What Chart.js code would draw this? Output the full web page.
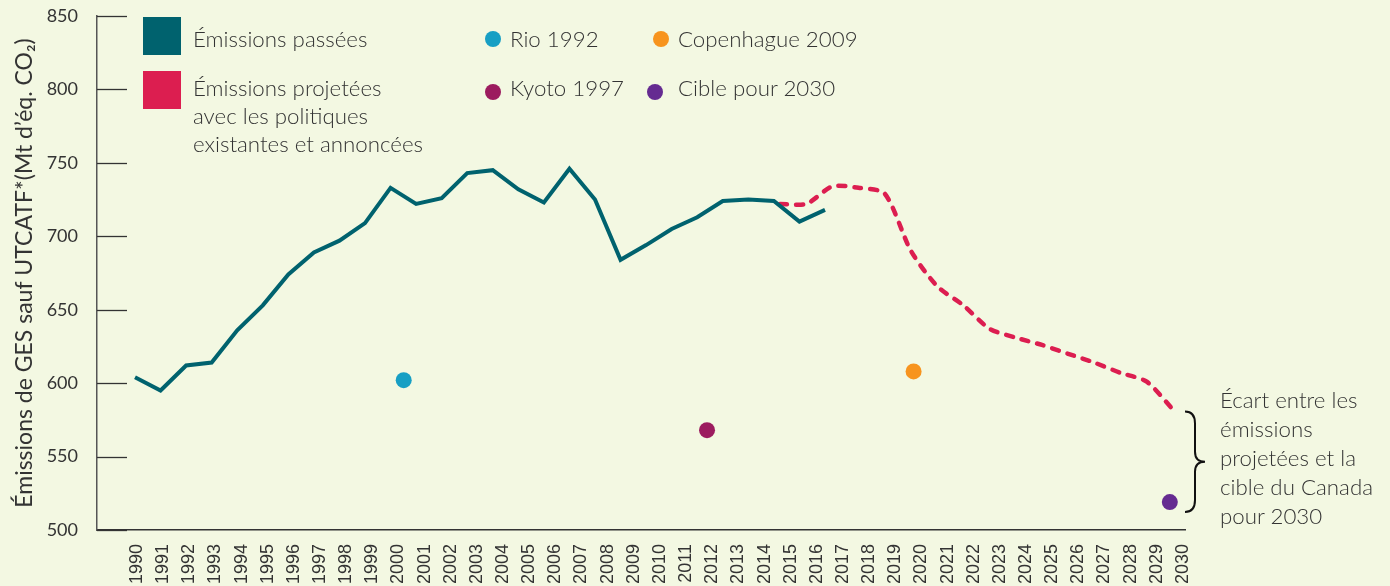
<!DOCTYPE html>
<html lang="fr">
<head>
<meta charset="utf-8">
<title>Émissions de GES du Canada</title>
<script src="https://cdn.jsdelivr.net/npm/chart.js@4/dist/chart.umd.min.js"></script>
<style>
    html, body { margin: 0; padding: 0; background: #f3f8e2; }
    #wrap { position: relative; width: 1390px; height: 586px; overflow: hidden; background: #f3f8e2; }
    #chart { position: absolute; left: 0; top: 0; }
    .txt { position: absolute; font-family: Lato, "Open Sans", sans-serif; font-weight: 300; font-size: 22.3px; color: #333; line-height: 28px; white-space: nowrap; }
    .sq { position: absolute; width: 38px; height: 38px; }
    .dot { position: absolute; width: 16px; height: 16px; border-radius: 50%; }
    .note { line-height: 29px; }
</style>
</head>
<body>
<div id="wrap">
    <canvas id="chart" width="1390" height="586"></canvas>

    <!-- légende -->
    <div class="sq" style="left:143px; top:17px; background:#00626e;"></div>
    <div class="txt" style="left:193px; top:25px;">Émissions passées</div>
    <div class="sq" style="left:143px; top:71px; background:#dc1e50;"></div>
    <div class="txt" style="left:193px; top:74px;">Émissions projetées<br>avec les politiques<br>existantes et annoncées</div>

    <div class="dot" style="left:485px; top:31px; background:#179fc4;"></div>
    <div class="txt" style="left:510px; top:25px;">Rio 1992</div>
    <div class="dot" style="left:653px; top:31px; background:#f7941e;"></div>
    <div class="txt" style="left:678px; top:25px;">Copenhague 2009</div>
    <div class="dot" style="left:485px; top:84px; background:#9c1c5f;"></div>
    <div class="txt" style="left:510px; top:74px;">Kyoto 1997</div>
    <div class="dot" style="left:647px; top:84px; background:#652b91;"></div>
    <div class="txt" style="left:678px; top:74px;">Cible pour 2030</div>

    <!-- annotation -->
    <div class="txt note" style="left:1220px; top:385px;">Écart entre les<br>émissions<br>projetées et la<br>cible du Canada<br>pour 2030</div>
</div>

<script>
// ---- données ----
const years = [1990, 1991, 1992, 1993, 1994, 1995, 1996, 1997, 1998, 1999,
               2000, 2001, 2002, 2003, 2004, 2005, 2006, 2007, 2008, 2009,
               2010, 2011, 2012, 2013, 2014, 2015, 2016, 2017, 2018, 2019,
               2020, 2021, 2022, 2023, 2024, 2025, 2026, 2027, 2028, 2029, 2030];
const yTicks = [500, 550, 600, 650, 700, 750, 800, 850];

// émissions passées (Mt)
const pastYears = [1990, 1991, 1992, 1993, 1994, 1995, 1996, 1997, 1998, 1999,
                   2000, 2001, 2002, 2003, 2004, 2005, 2006, 2007, 2008, 2009,
                   2010, 2011, 2012, 2013, 2014, 2015, 2016, 2017];
const pastValues = [604, 595, 612, 614, 636, 653, 674, 689, 697, 709,
                    733, 722, 726, 743, 745, 732, 723, 746, 725, 684,
                    694, 705, 713, 724, 725, 724, 710, 718];

// émissions projetées (Mt)
const projYears = [2015, 2016, 2017, 2018, 2019, 2020, 2021, 2022,
                   2023, 2024, 2025, 2026, 2027, 2028, 2029, 2030];
const projValues = [722, 722, 734, 733, 729, 690, 666, 653,
                    637, 631, 626, 620, 614, 607, 601, 582];

// cibles
const targetNames = ["Rio 1992", "Kyoto 1997", "Copenhague 2009", "Cible pour 2030"];
const targetYears = [2000.2, 2011.8, 2019.7, 2029.5];
const targetValues = [602, 568, 608, 519];

const targetColors = ["#179fc4", "#9c1c5f", "#f7941e", "#652b91"];
const TEAL = "#00626e";
const RED = "#dc1e50";
const INK = "#333333";

// petits traits de graduation vers l'intérieur du graphique
const innerTicks = {
    id: "innerTicks",
    beforeDatasetsDraw(chart) {
        const { ctx, chartArea, scales } = chart;
        ctx.save();
        ctx.strokeStyle = INK;
        ctx.lineWidth = 1.3;
        yTicks.forEach(v => {
            const y = Math.round(scales.y.getPixelForValue(v)) + 0.5;
            ctx.beginPath();
            ctx.moveTo(chartArea.left, y);
            ctx.lineTo(chartArea.left + 30, y);
            ctx.stroke();
        });
        ctx.restore();
    }
};

// accolade entre la projection 2030 et la cible 2030
const gapBrace = {
    id: "gapBrace",
    afterDatasetsDraw(chart) {
        const { ctx, chartArea, scales } = chart;
        const yT = scales.y.getPixelForValue(projValues[projValues.length - 1]) + 2;
        const yB = scales.y.getPixelForValue(targetValues[targetValues.length - 1]) + 10;
        const ym = (yT + yB) / 2;
        const x0 = chartArea.right, xm = x0 + 10, xt = x0 + 20;
        ctx.save();
        ctx.strokeStyle = "#111";
        ctx.lineWidth = 2;
        ctx.beginPath();
        ctx.moveTo(x0, yT);
        ctx.quadraticCurveTo(xm, yT, xm, yT + 12);
        ctx.lineTo(xm, ym - 10);
        ctx.quadraticCurveTo(xm, ym, xt, ym);
        ctx.quadraticCurveTo(xm, ym, xm, ym + 10);
        ctx.lineTo(xm, yB - 12);
        ctx.quadraticCurveTo(xm, yB, x0, yB);
        ctx.stroke();
        ctx.restore();
    }
};

new Chart(document.getElementById("chart"), {
    type: "line",
    data: {
        datasets: [
            {
                label: "Émissions passées",
                data: pastYears.map((yr, i) => ({ x: yr, y: pastValues[i] })),
                xAxisID: "xp",
                borderColor: TEAL,
                borderWidth: 4,
                borderJoinStyle: "miter",
                pointRadius: 0,
                tension: 0,
                order: 1
            },
            {
                label: "Émissions projetées avec les politiques existantes et annoncées",
                data: projYears.map((yr, i) => ({ x: yr, y: projValues[i] })),
                xAxisID: "xf",
                borderColor: RED,
                borderWidth: 4.5,
                borderDash: [7, 9],
                borderCapStyle: "round",
                pointRadius: 0,
                tension: 0.25,
                order: 2
            },
            {
                label: "Cibles",
                data: targetYears.map((yr, i) => ({ x: yr, y: targetValues[i] })),
                xAxisID: "x",
                showLine: false,
                pointRadius: 8,
                pointHoverRadius: 8,
                pointBorderWidth: 0,
                pointBackgroundColor: targetColors,
                order: 0
            }
        ]
    },
    options: {
        responsive: false,
        animation: false,
        layout: { padding: { top: 16, right: 205, bottom: 0, left: 0 } },
        plugins: {
            legend: { display: false },
            tooltip: { enabled: false }
        },
        scales: {
            x: {
                type: "linear",
                min: 1988.47,
                max: 2030.08,
                afterBuildTicks: s => { s.ticks = years.map(v => ({ value: v })); },
                afterFit: s => { s.height = 56; },
                grid: { display: false, drawTicks: false },
                border: { display: true, color: INK, width: 1.5 },
                ticks: {
                    autoSkip: false,
                    maxRotation: 90,
                    minRotation: 90,
                    padding: 14,
                    color: INK,
                    font: { family: "'Liberation Sans', Arial, sans-serif", size: 18 },
                    callback: v => String(v)
                }
            },
            xp: { type: "linear", display: false, min: 1988.513, max: 2031.087 },
            xf: { type: "linear", display: false, min: 1988.93, max: 2030.46 },
            y: {
                min: 500,
                max: 850,
                afterBuildTicks: s => { s.ticks = yTicks.map(v => ({ value: v })); },
                afterFit: s => {
                    s.width = 97;
                    s.paddingTop = 0;
                    s.paddingBottom = 0;
                },
                grid: { display: false, drawTicks: false },
                border: { display: true, color: "#555", width: 1.5 },
                ticks: {
                    padding: 19,
                    color: INK,
                    font: { family: "Lato, 'Open Sans', sans-serif", size: 18 }
                },
                title: {
                    display: true,
                    text: "Émissions de GES sauf UTCATF*(Mt d’éq. CO₂)",
                    color: INK,
                    padding: { top: 11, bottom: 0 },
                    font: { family: "Lato, 'Open Sans', sans-serif", size: 23 }
                }
            }
        }
    },
    plugins: [innerTicks, gapBrace]
});
</script>
</body>
</html>
